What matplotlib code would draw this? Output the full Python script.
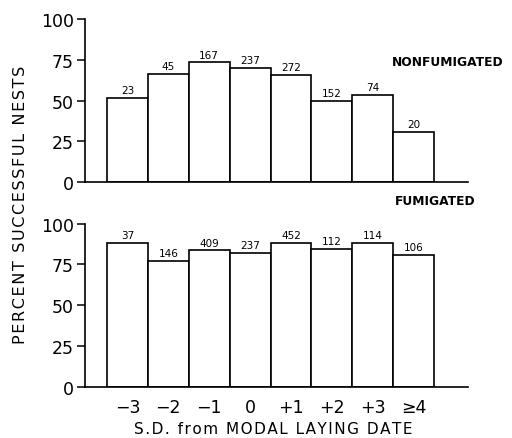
import numpy as np
import matplotlib
matplotlib.use("Agg")
import matplotlib.pyplot as plt

# S.D. classes from modal laying date
categories = ["\u22123", "\u22122", "\u22121", "0", "+1", "+2", "+3", "\u22654"]

# percent successful nests
nonfum_pct = [51.8, 66.3, 73.5, 70.3, 65.7, 49.7, 53.4, 30.6]
fum_pct = [88.3, 77.3, 83.6, 82.0, 88.3, 84.6, 88.3, 81.1]

# sample sizes printed above the bars
nonfum_n = [23, 45, 167, 237, 272, 152, 74, 20]
fum_n = [37, 146, 409, 237, 452, 112, 114, 106]

yticks = [0, 25, 50, 75, 100]

plt.rcParams['font.family'] = ['DejaVu Sans']


def spaced(s):
    # crude letter spacing with hair spaces
    return "\u200a".join(s)


fig = plt.figure(figsize=(5.12, 4.39), dpi=100)
ax1 = fig.add_axes([0.166, 0.583, 0.748, 0.371])
ax2 = fig.add_axes([0.166, 0.117, 0.748, 0.371])

x = np.arange(len(categories))


def draw(ax, pct, n):
    bars = ax.bar(x, pct, width=1.0, facecolor='white', edgecolor='black',
                  linewidth=1.2, zorder=2)
    ax.bar_label(bars, labels=[str(v) for v in n], padding=2, fontsize=7.5)
    ax.set_xlim(-1.04, 8.33)
    ax.set_ylim(0, 100)
    ax.set_yticks(yticks)
    ax.tick_params(axis='y', direction='out', length=6, width=1.1,
                   labelsize=12.5, pad=2)
    for s in ['top', 'right']:
        ax.spines[s].set_visible(False)
    for s in ['left', 'bottom']:
        ax.spines[s].set_linewidth(1.2)


draw(ax1, nonfum_pct, nonfum_n)
draw(ax2, fum_pct, fum_n)

ax1.set_xticks([])
ax2.set_xticks(x)
ax2.set_xticklabels(categories)
ax2.tick_params(axis='x', length=0, labelsize=12.5, pad=8)

fig.text(392 / 512, 1 - 62 / 439, "NONFUMIGATED", fontsize=8.8,
         fontweight='bold', ha='left', va='center')
fig.text(395 / 512, 1 - 202 / 439, "FUMIGATED", fontsize=8.8,
         fontweight='bold', ha='left', va='center')

fig.text(273 / 512, 1 - 430 / 439, spaced("S.D. from MODAL LAYING DATE"),
         fontsize=11, ha='center', va='center')
fig.text(21 / 512, 1 - 205 / 439, spaced("PERCENT SUCCESSFUL NESTS"),
         fontsize=11.5, rotation=90, ha='center', va='center')

fig.savefig("out.png", dpi=100)
